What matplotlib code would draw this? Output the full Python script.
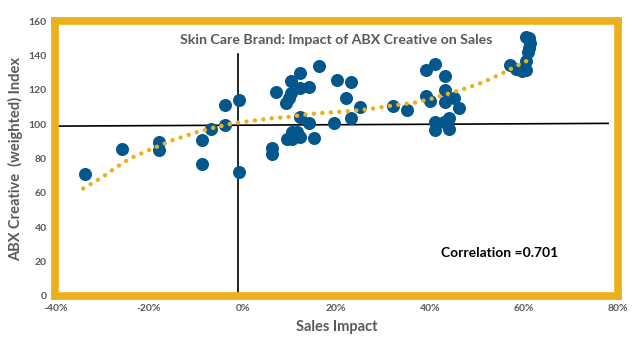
import numpy as np
import matplotlib
matplotlib.use('Agg')
import matplotlib.pyplot as plt
from matplotlib.ticker import FuncFormatter

plt.rcParams['font.family'] = ['Lato', 'DejaVu Sans']

# sales impact (%) and ABX creative index
sales = [-33.7, -25.7, -17.8, -17.8, -8.7, -8.7, -6.7, -3.8, -3.8, -0.7, -0.7,
         6.2, 6.2, 7.2, 10.3, 12.2, 16.2, 10.3, 12.2, 14.1, 9.8, 9.3,
         20.2, 22.1, 23.1, 23.1, 12.2, 14.1, 19.4,
         9.4, 10.5, 10.5, 11.5, 12.2, 11.3, 15.2, 25.1, 32.1, 35.1,
         39.1, 41.1, 43.1, 39.1, 40.0, 43.1, 43.1, 45.1, 46.1,
         41.1, 41.1, 44.0, 43.0, 44.0,
         57.0, 58.4, 59.6, 60.4, 60.5, 60.9, 61.2, 61.3, 60.5, 61.2]
index = [71.0, 85.5, 89.4, 84.9, 90.6, 76.8, 97.3, 111.1, 99.5, 114.0, 72.3,
         85.9, 82.4, 118.7, 125.3, 129.7, 134.0, 117.9, 121.0, 121.8, 115.0, 112.1,
         125.5, 115.0, 124.7, 103.4, 104.3, 100.8, 100.5,
         91.2, 91.2, 95.6, 95.6, 92.3, 93.7, 91.9, 109.8, 110.5, 108.2,
         131.5, 134.8, 128.2, 116.3, 113.4, 119.8, 113.0, 115.0, 109.6,
         101.4, 96.6, 103.4, 101.4, 97.1,
         134.4, 132.4, 130.8, 131.5, 137.0, 142.0, 144.5, 147.0, 150.5, 150.0]

# dotted trend line
trend_x = [-34, -30, -27, -24, -20, -15, -9.5, -6, -2, 2, 6, 10, 13.5, 17.5,
           21.5, 27, 31, 37, 40.5, 44, 48, 51.5, 55, 58.5, 60.5]
trend_y = [62.6, 69, 74.9, 80.1, 84.9, 90.7, 95.6, 98.1, 100.5, 102, 103.4,
           104.3, 105.7, 106.7, 107.3, 108.8, 110.5, 112.7, 115, 117.9, 121.2,
           124.7, 129.1, 134, 136.7]

xticks = [-40, -20, 0, 20, 40, 60, 80]
yticks = [0, 20, 40, 60, 80, 100, 120, 140, 160]

gold = '#ECB01E'
blue = '#03578C'
grey = '#595959'

fig = plt.figure(figsize=(6.34, 3.47), dpi=100)
ax = fig.add_axes([0.087, 0.147, 0.887, 0.792])

# reference cross lines
ax.plot([-1, -1], [0, 140.8], color='black', lw=1.2, zorder=2)
ax.plot([-40, 78], [98.9, 100.5], color='black', lw=1.2, zorder=2)

ax.scatter(sales, index, s=88, c=blue, zorder=3, linewidths=0)
ax.plot(trend_x, trend_y, color=gold, lw=3.2, dashes=(0.01, 1.9),
        dash_capstyle='round', zorder=4)

ax.set_xlim(-40, 80)
ax.set_ylim(0, 160)
ax.set_xticks(xticks)
ax.set_yticks(yticks)
ax.xaxis.set_major_formatter(FuncFormatter(lambda v, p: '%d%%' % v))
ax.tick_params(length=0, labelsize=7.5, labelcolor=grey, pad=6)
for lab in ax.get_xticklabels() + ax.get_yticklabels():
    lab.set_fontweight('bold')

for s in ax.spines.values():
    s.set_color(gold)
    s.set_linewidth(5.5)
    s.set_zorder(5)

ax.set_xlabel('Sales Impact', fontsize=10.5, fontweight='bold', color=grey, labelpad=5)
ax.set_ylabel('ABX Creative  (weighted) Index', fontsize=10.5, fontweight='bold',
              color=grey, labelpad=4)
ax.text(0.5, 0.955, 'Skin Care Brand: Impact of ABX Creative on Sales',
        transform=ax.transAxes, ha='center', va='top', fontsize=10.2,
        fontweight='bold', color=grey)
ax.text(42.3, 25, 'Correlation =0.701', ha='left', va='center', fontsize=10,
        fontweight='bold', color='black')

fig.savefig('out.png', dpi=100)
